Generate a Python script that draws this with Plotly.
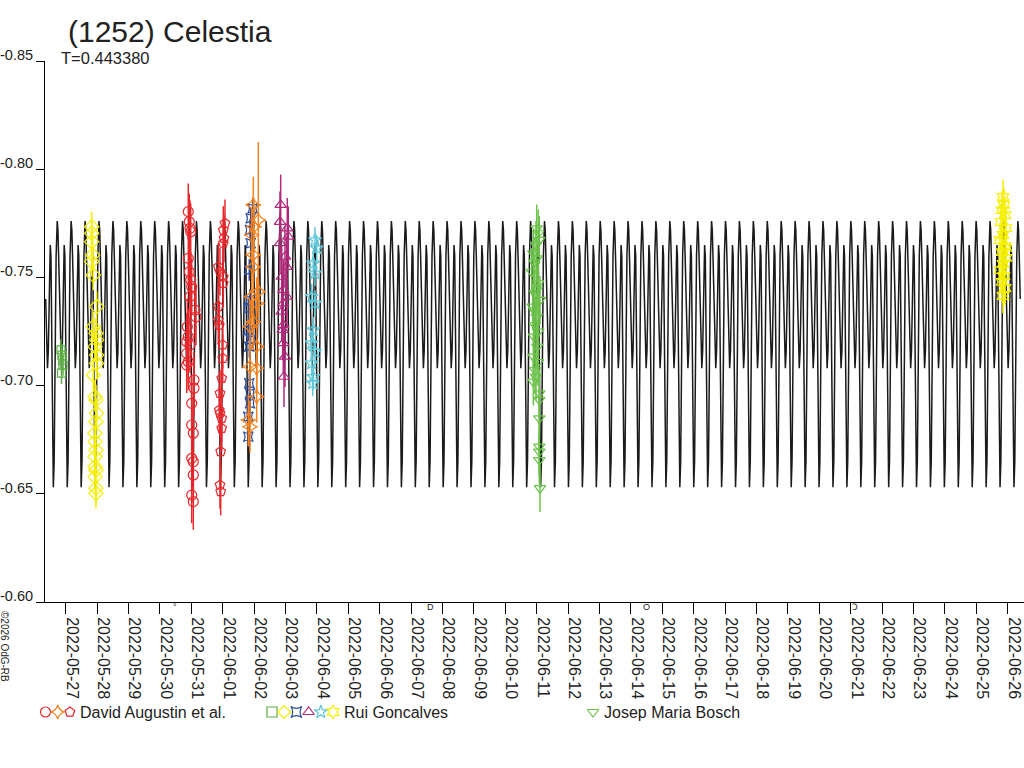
import pandas as pd
import plotly.graph_objects as go

TITLE = "(1252) Celestia"
SUBTITLE = "T=0.443380"
PERIOD_D = 0.443380
BASE_DATE = "2022-05-27"          # day 0 of all time offsets below (UT)

# x-axis window, days since BASE_DATE
X_START_DAY = -0.659
X_END_DAY = 30.519

# Y axis ticks (relative magnitude, reversed axis)
Y_TICKS = [-0.85, -0.80, -0.75, -0.70, -0.65, -0.60]
Y_TICK_TEXT = ["-0.85", "-0.80", "-0.75", "-0.70", "-0.65", "-0.60"]

# fitted rotational lightcurve, one period (phase, relative mag)
PROFILE_PHASE = [0.00, 0.05, 0.10, 0.17, 0.24, 0.30, 0.36, 0.42, 0.50, 0.55, 0.61, 0.66, 0.72, 0.78, 0.85, 0.92]
PROFILE_MAG = [-0.776, -0.772, -0.760, -0.740, -0.718, -0.708, -0.716, -0.745, -0.765, -0.760,
               -0.720, -0.675, -0.653, -0.665, -0.715, -0.760]
EPOCH_DAY = 13.475

# ---------------- observations (days since BASE_DATE, relative mag) -------------
DA_CIRCLE_DAY = [3.904, 3.936, 3.959, 3.981, 3.904, 3.936, 3.981, 4.013, 3.959, 4.118, 4.150, 3.873, 3.904, 3.854,
                 3.959, 3.854, 3.904, 3.854, 4.086, 4.086, 4.013, 4.013, 4.064, 4.013, 4.064, 4.064, 4.013, 4.064]
DA_CIRCLE_MAG = [-0.7804, -0.7757, -0.7727, -0.7711, -0.7588, -0.7526, -0.7488, -0.7457, -0.7411, -0.7349, -0.7318,
                 -0.7272, -0.7226, -0.7203, -0.7188, -0.7149, -0.7110, -0.7095, -0.7026, -0.6988, -0.6918, -0.6818,
                 -0.6780, -0.6664, -0.6648, -0.6587, -0.6494, -0.6464]
DA_CIRCLE_ERR = 0.013

DA_STAR4_DAY = [5.975, 6.134, 5.997, 5.924, 5.975, 5.975, 6.134, 5.924, 6.083, 5.975, 5.869, 6.083, 5.869, 6.083,
                6.083, 5.815, 5.869]
DA_STAR4_MAG = [-0.7835, -0.7765, -0.7734, -0.7696, -0.7604, -0.7549, -0.7434, -0.7411, -0.7380, -0.7295, -0.7272,
                -0.7180, -0.7087, -0.7080, -0.6949, -0.6841, -0.6810]
DA_STAR4_ERR = [0.013, 0.036, 0.012, 0.012, 0.012, 0.012, 0.012, 0.012, 0.012, 0.012, 0.012, 0.012, 0.012, 0.012,
                0.012, 0.012, 0.012]

DA_PENT_DAY = [5.073, 5.019, 5.041, 5.019, 4.860, 4.914, 5.019, 5.019, 4.860, 4.860, 4.892, 5.000, 5.000, 4.968,
               4.914, 4.892, 4.914, 4.968, 4.968, 4.936, 4.914, 4.936]
DA_PENT_MAG = [-0.7750, -0.7719, -0.7681, -0.7658, -0.7549, -0.7526, -0.7503, -0.7473, -0.7365, -0.7303, -0.7280,
               -0.7188, -0.7126, -0.7034, -0.6964, -0.6887, -0.6872, -0.6849, -0.6803, -0.6695, -0.6541, -0.6510]
DA_PENT_ERR = 0.011

RG_SQUARE_DAY = [-0.150, -0.118, -0.102, -0.086, -0.134]
RG_SQUARE_MAG = [-0.7165, -0.7141, -0.7118, -0.7095, -0.7058]
RG_SQUARE_ERR = 0.005

RG_DIAMOND_DAY = [0.828, 0.828, 0.828, 0.860, 0.828, 0.879, 0.987, 0.879, 0.965, 0.987, 0.933, 0.987, 0.987, 0.879,
                  0.933, 0.965, 0.987, 0.965, 0.933, 0.933, 0.965, 0.933, 0.933, 0.965, 0.933, 0.965, 0.965]
RG_DIAMOND_MAG = [-0.7734, -0.7704, -0.7665, -0.7604, -0.7573, -0.7511, -0.7365, -0.7272, -0.7242, -0.7211, -0.7180,
                  -0.7141, -0.7103, -0.7049, -0.6949, -0.6934, -0.6872, -0.6833, -0.6780, -0.6741, -0.6702, -0.6672,
                  -0.6625, -0.6610, -0.6579, -0.6526, -0.6502]
RG_DIAMOND_ERR = 0.007

RG_BOWTIE_DAY = [5.955, 5.892, 5.869, 5.892, 5.847, 5.869, 5.815, 5.815, 5.892, 5.847, 5.847, 5.869, 5.869, 5.815,
                 5.815]
RG_BOWTIE_MAG = [-0.7819, -0.7773, -0.7719, -0.7658, -0.7534, -0.7396, -0.7357, -0.7257, -0.7211, -0.7180, -0.7011,
                 -0.6964, -0.6918, -0.6856, -0.6764]
RG_BOWTIE_ERR = 0.005

RG_TRI_DAY = [6.847, 6.825, 7.057, 7.089, 6.825, 6.984, 7.038, 6.879, 6.930, 7.038, 6.930, 6.879, 6.930, 6.911,
              6.930, 6.984, 6.952]
RG_TRI_MAG = [-0.7835, -0.7757, -0.7727, -0.7688, -0.7658, -0.7596, -0.7549, -0.7503, -0.7442, -0.7411, -0.7380,
              -0.7342, -0.7280, -0.7257, -0.7196, -0.7134, -0.7041]
RG_TRI_ERR = 0.014

RG_STAR_DAY = [7.940, 7.994, 7.885, 7.940, 7.834, 7.940, 7.885, 7.834, 7.940, 7.834, 7.885, 7.866]
RG_STAR_MAG = [-0.7673, -0.7635, -0.7565, -0.7519, -0.7411, -0.7380, -0.7257, -0.7196, -0.7157, -0.7103, -0.7041,
               -0.7011]
RG_STAR_ERR = 0.006

RG_HEXA_DAY = [29.850, 29.882, 29.818, 29.914, 29.787, 29.946, 29.850, 29.755, 29.914, 29.818, 29.946, 29.850,
               29.755, 29.882, 29.818, 29.914, 29.850, 29.946]
RG_HEXA_MAG = [-0.7872, -0.7835, -0.7811, -0.7788, -0.7756, -0.7728, -0.7696, -0.7673, -0.7645, -0.7617, -0.7590,
               -0.7562, -0.7534, -0.7507, -0.7479, -0.7451, -0.7414, -0.7636]
RG_HEXA_ERR = 0.008

JMB_TRI_DAY = [15.000, 15.051, 15.083, 14.892, 15.000, 14.841, 15.051, 14.946, 15.105, 14.873, 15.000, 15.051, 14.914,
               15.019, 14.892, 14.946, 14.978, 14.892, 15.083, 15.083, 15.083, 15.083, 15.083, 15.083, 15.105, 14.914,
               15.010, 14.946, 15.041, 14.914, 14.978]
JMB_TRI_MAG = [-0.7727, -0.7704, -0.7673, -0.7611, -0.7588, -0.7526, -0.7473, -0.7427, -0.7396, -0.7365, -0.7318,
               -0.7249, -0.7226, -0.7180, -0.7134, -0.7072, -0.7041, -0.7018, -0.6964, -0.6934, -0.6849, -0.6718,
               -0.6695, -0.6656, -0.6526, -0.7571, -0.7446, -0.7280, -0.7109, -0.7349, -0.7650]
JMB_TRI_ERR = 0.011

OBSERVERS = ["David Augustin et al.", "Rui Goncalves", "Josep Maria Bosch"]

# moon phases (days since BASE_DATE) and their glyphs
MOON_DAY = [3.479, 11.617, 18.494, 25.133]
MOON_GLYPH = ["°", "D", "O", "Ↄ"]

COPYRIGHT = "©2026 OdG-RB"

# ---------------- styling -----------------
FONT = "Liberation Sans, Arial, sans-serif"
TXT = "#222222"
RED = "#e8282c"
ORANGE = "#f5821f"
YELLOW = "#f5f000"
GREEN_SQ = "#5cb045"
BLUE = "#2d4f9e"
PURPLE = "#b0287a"
CYAN = "#5fc8d8"
GREEN_J = "#6cc24a"

base = pd.Timestamp(BASE_DATE)


def to_dt(days):
    return [base + pd.to_timedelta(d, unit="D") for d in days]


# build fitted curve by repeating one-period profile
curve_days, curve_mag = [], []
n0 = int((X_START_DAY - EPOCH_DAY) / PERIOD_D) - 1
n1 = int((X_END_DAY - EPOCH_DAY) / PERIOD_D) + 1
for n in range(n0, n1 + 1):
    for p, m in zip(PROFILE_PHASE, PROFILE_MAG):
        d = EPOCH_DAY + (n + p) * PERIOD_D
        if X_START_DAY <= d <= X_END_DAY - 0.1:
            curve_days.append(d)
            curve_mag.append(m)

series = [
    (RG_SQUARE_DAY, RG_SQUARE_MAG, RG_SQUARE_ERR, "square-open", GREEN_SQ, 8),
    (RG_DIAMOND_DAY, RG_DIAMOND_MAG, RG_DIAMOND_ERR, "diamond-open", YELLOW, 11),
    (DA_CIRCLE_DAY, DA_CIRCLE_MAG, DA_CIRCLE_ERR, "circle-open", RED, 10),
    (DA_PENT_DAY, DA_PENT_MAG, DA_PENT_ERR, "pentagon-open", RED, 10),
    (RG_BOWTIE_DAY, RG_BOWTIE_MAG, RG_BOWTIE_ERR, "star-square-open", BLUE, 9),
    (DA_STAR4_DAY, DA_STAR4_MAG, DA_STAR4_ERR, "star-diamond-open", ORANGE, 11),
    (RG_TRI_DAY, RG_TRI_MAG, RG_TRI_ERR, "triangle-up-open", PURPLE, 10),
    (RG_STAR_DAY, RG_STAR_MAG, RG_STAR_ERR, "star-open", CYAN, 10),
    (JMB_TRI_DAY, JMB_TRI_MAG, JMB_TRI_ERR, "triangle-down-open", GREEN_J, 10),
    (RG_HEXA_DAY, RG_HEXA_MAG, RG_HEXA_ERR, "hexagram-open", YELLOW, 10),
]

fig = go.Figure()
fig.add_trace(go.Scatter(x=to_dt(curve_days), y=curve_mag, mode="lines",
                         line=dict(color="#1a1a1a", width=1.5), showlegend=False, hoverinfo="skip"))

for days, mags, err, sym, col, size in series:
    errs = err if isinstance(err, list) else [err] * len(days)
    fig.add_trace(go.Scatter(
        x=to_dt(days), y=mags, mode="markers",
        marker=dict(symbol=sym, size=size, color=col, line=dict(width=1.2, color=col)),
        error_y=dict(type="data", array=errs, color=col, thickness=1.5, width=0),
        showlegend=False))

# custom legend row (glyph groups + names) on an auxiliary pixel-scaled axis
LEGEND_GLYPHS = [
    [("circle-open", RED), ("star-diamond-open", ORANGE), ("pentagon-open", RED)],
    [("square-open", GREEN_SQ), ("diamond-open", YELLOW), ("star-square-open", BLUE),
     ("triangle-up-open", PURPLE), ("star-open", CYAN), ("hexagram-open", YELLOW)],
    [("triangle-down-open", GREEN_J)],
]
LEGEND_START_PX = [45.5, 272, 593]
LEGEND_STEP_PX = 12.2
LEGEND_TEXT_GAP_PX = 8.5

annotations = []
for start, glyphs, name in zip(LEGEND_START_PX, LEGEND_GLYPHS, OBSERVERS):
    for i, (sym, col) in enumerate(glyphs):
        fig.add_trace(go.Scatter(
            x=[start + i * LEGEND_STEP_PX], y=[0], xaxis="x2", yaxis="y2", mode="markers",
            marker=dict(symbol=sym, size=10, color=col, line=dict(width=1.2, color=col)),
            showlegend=False, hoverinfo="skip", cliponaxis=False))
    annotations.append(dict(
        x=start + (len(glyphs) - 1) * LEGEND_STEP_PX + LEGEND_TEXT_GAP_PX, y=0, xref="x2", yref="y2",
        text=name, showarrow=False, xanchor="left", yanchor="middle",
        font=dict(family=FONT, size=16, color=TXT)))

W, H = 1024, 768
ML, MR, MT, MB = 45, 0, 61, 38
PH = H - MT - MB


def py(pix):  # pixel row -> paper y
    return (H - MB - pix) / PH


def px(pix):  # pixel column -> paper x
    return (pix - ML) / (W - ML - MR)


annotations.append(dict(x=px(66), y=py(31), xref="paper", yref="paper", text=TITLE, showarrow=False,
                        xanchor="left", yanchor="middle", font=dict(family=FONT, size=30, color=TXT)))
annotations.append(dict(x=px(59), y=py(58), xref="paper", yref="paper", text=SUBTITLE, showarrow=False,
                        xanchor="left", yanchor="middle", font=dict(family=FONT, size=16.5, color=TXT)))
for d, g in zip(MOON_DAY, MOON_GLYPH):
    annotations.append(dict(x=to_dt([d])[0], y=py(607), xref="x", yref="paper", text=g, showarrow=False,
                            xanchor="center", yanchor="middle", font=dict(family=FONT, size=9, color=TXT)))
annotations.append(dict(x=px(5), y=py(646), xref="paper", yref="paper", text=COPYRIGHT, showarrow=False,
                        textangle=90, xanchor="center", yanchor="middle",
                        font=dict(family=FONT, size=10, color=TXT)))

fig.update_layout(
    width=W, height=H,
    margin=dict(l=ML, r=MR, t=MT, b=MB, pad=0, autoexpand=False),
    paper_bgcolor="white", plot_bgcolor="white",
    font=dict(family=FONT, size=16, color=TXT),
    xaxis=dict(
        range=to_dt([X_START_DAY, X_END_DAY]), type="date",
        tick0=BASE_DATE, dtick=86400000, tickformat="%Y-%m-%d", tickangle=90,
        ticks="outside", ticklen=11, tickwidth=1, tickcolor="black",
        showline=True, linecolor="black", linewidth=1, showgrid=False, zeroline=False,
        tickfont=dict(family=FONT, size=16, color=TXT), ticklabelshift=6, ticklabelstandoff=0,
        anchor="y", automargin=False,
    ),
    yaxis=dict(
        range=[Y_TICKS[-1], Y_TICKS[0]], domain=[py(602), 1],
        tickvals=Y_TICKS, ticktext=Y_TICK_TEXT,
        ticks="outside", ticklen=8, tickwidth=1, tickcolor="black",
        showline=True, linecolor="black", linewidth=1, showgrid=False, zeroline=False,
        tickfont=dict(family=FONT, size=14.5, color=TXT), ticklabelshift=6, ticklabelstandoff=0,
        automargin=False,
    ),
    xaxis2=dict(range=[ML, W - MR], domain=[0, 1], anchor="y2", visible=False, fixedrange=True),
    yaxis2=dict(range=[-1, 1], domain=[0, py(694)], anchor="x2", visible=False, fixedrange=True),
    annotations=annotations,
    showlegend=False,
)

fig.write_html("out.html", config={"displayModeBar": False},
               post_script="document.body.style.margin='0px';")
